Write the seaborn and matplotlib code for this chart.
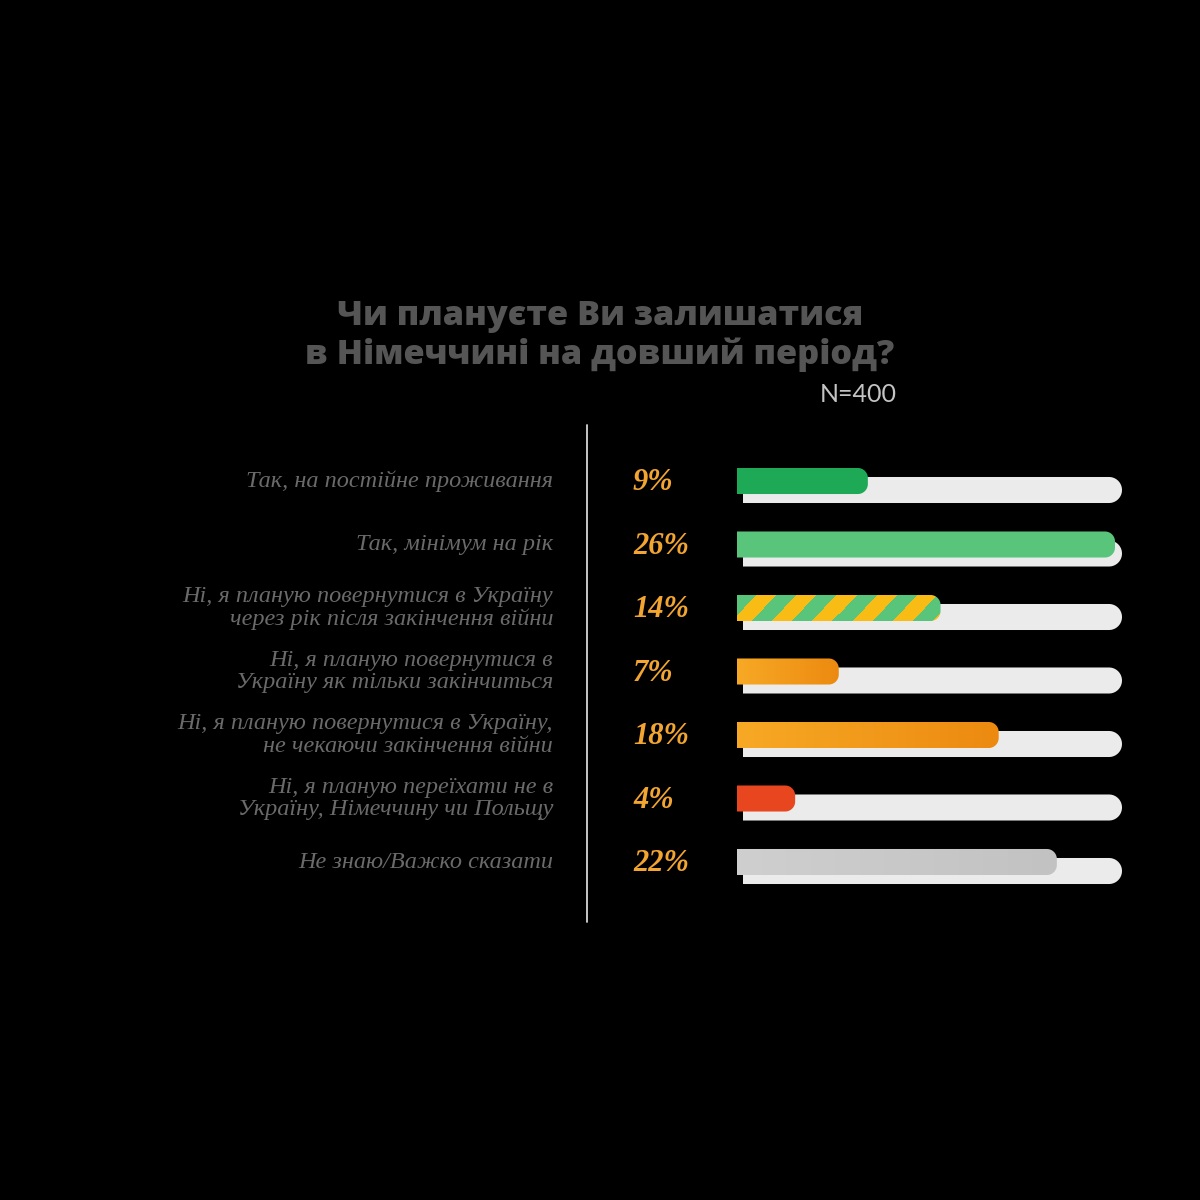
import numpy as np
import pandas as pd
import seaborn as sns
import matplotlib.pyplot as plt
from matplotlib.patches import Polygon
from matplotlib.lines import Line2D
from matplotlib.colors import to_rgb
from matplotlib import transforms

# --- data ---
answers = [
    "Так, на постійне проживання",
    "Так, мінімум на рік",
    "Ні, я планую повернутися в Україну\nчерез рік після закінчення війни",
    "Ні, я планую повернутися в\nУкраїну як тільки закінчиться",
    "Ні, я планую повернутися в Україну,\nне чекаючи закінчення війни",
    "Ні, я планую переїхати не в\nУкраїну, Німеччину чи Польщу",
    "Не знаю/Важко сказати",
]
shares = [9, 26, 14, 7, 18, 4, 22]
title_lines = ["Чи плануєте Ви залишатися", "в Німеччині на довший період?"]
sample_note = "N=400"

# --- styles ---
bar_colors = ["#1DA955", "#58C57A", "#58C57A", "#F29A1B", "#F29A1B", "#E8461E", "#C9C9C9"]
bar_fill = ["solid", "solid", "stripes", "gradient", "gradient", "solid", "gradient"]
gradient_ends = {3: ("#F7A925", "#EC8A10"), 4: ("#F7A925", "#EC8A10"), 6: ("#CFCFCF", "#C2C2C2")}
stripe_colors = ("#58C57A", "#F8BC14")
track_color = "#EBEBEB"
label_color = "#6A6A6A"
pct_color = "#F2A530"

sns.set_style("dark", {"axes.facecolor": "black", "figure.facecolor": "black"})

fig = plt.figure(figsize=(12, 12), dpi=100, facecolor="black")
ax = fig.add_axes([737 / 1200, 1 - 893.75 / 1200, 385 / 1200, 444.5 / 1200])
ax.set_facecolor("black")

df = pd.DataFrame({"answer": answers, "share": shares})
sns.barplot(data=df, y="answer", x="share", hue="answer", palette=bar_colors,
            legend=False, width=0.41, orient="h", ax=ax, saturation=1)

x_max = 26 * 385 / 378
ax.set_xlim(0, x_max)
ax.set_ylim(6.5, -0.5)
ax.axis("off")

bbox = ax.get_window_extent()
ux = x_max / bbox.width      # data units per pixel, x
uy = 7.0 / bbox.height       # data units per pixel, y


def right_rounded(x0, y0, w, h, r_px, n=16):
    rx = min(r_px * ux, w)
    ry = min(r_px * uy, h / 2)
    x1 = x0 + w
    t1 = np.linspace(-np.pi / 2, 0, n)
    t2 = np.linspace(0, np.pi / 2, n)
    arc1 = np.column_stack([x1 - rx + rx * np.cos(t1), y0 + ry + ry * np.sin(t1)])
    arc2 = np.column_stack([x1 - rx + rx * np.cos(t2), y0 + h - ry + ry * np.sin(t2)])
    verts = np.vstack([[x0, y0], arc1, arc2, [x0, y0 + h]])
    return verts


bars = list(ax.patches)
for p in bars:
    p.remove()

for p in bars:
    x0, y0, w, h = p.get_x(), p.get_y(), p.get_width(), p.get_height()
    i = int(round(y0 + h / 2))

    # light track behind each bar, shifted a little right and down
    ty = y0 + 9 * uy
    tx = 6 * ux
    track = Polygon(right_rounded(tx, ty, x_max - tx, h, 13), closed=True,
                    facecolor=track_color, edgecolor="none", zorder=1)
    ax.add_patch(track)

    verts = right_rounded(x0, y0, w, h, 10)
    if bar_fill[i] == "solid":
        ax.add_patch(Polygon(verts, closed=True, facecolor=bar_colors[i],
                             edgecolor="none", zorder=2))
        continue

    shape = Polygon(verts, closed=True, facecolor="none", edgecolor="none", zorder=2)
    ax.add_patch(shape)
    nx = max(int(w / ux), 2)
    ny = max(int(h / uy), 2)
    if bar_fill[i] == "gradient":
        c0, c1 = (np.array(to_rgb(c)) for c in gradient_ends[i])
        t = np.linspace(0, 1, nx)[None, :, None]
        img = np.repeat(c0 + (c1 - c0) * t, ny, axis=0)
    else:
        cols, rows = np.meshgrid(np.arange(nx), np.arange(ny))
        band = ((cols + rows) // 20) % 2
        ca, cb = (np.array(to_rgb(c)) for c in stripe_colors)
        img = np.where(band[..., None] == 0, ca, cb)
    im = ax.imshow(img, extent=[x0, x0 + w, y0 + h, y0], aspect="auto",
                   interpolation="nearest", zorder=2)
    im.set_clip_path(shape)

ax.set_xlim(0, x_max)
ax.set_ylim(6.5, -0.5)

# labels and percentages, placed on the category rows
lab_tr = transforms.blended_transform_factory(fig.transFigure, ax.transData)
for i, (a, s) in enumerate(zip(answers, shares)):
    ax.text(553 / 1200, i, a, transform=lab_tr, ha="right", va="center",
            fontsize=17.5, fontstyle="italic", family="Liberation Serif",
            color=label_color, linespacing=1.1, clip_on=False)
    ax.text(633 / 1200, i + 0.03, f"{s}%", transform=lab_tr, ha="left", va="center",
            fontsize=22, fontstyle="italic", fontweight="bold",
            family="Liberation Serif", color=pct_color, clip_on=False)

fig.add_artist(Line2D([587 / 1200, 587 / 1200], [1 - 425 / 1200, 1 - 922 / 1200],
                      color="#D5D5D5", lw=1.3))

fig.text(0.5, 1 - 316 / 1200, title_lines[0], ha="center", va="center",
         fontsize=24.7, fontweight=800, family="Open Sans", color="#555555")
fig.text(0.5, 1 - 355 / 1200, title_lines[1], ha="center", va="center",
         fontsize=24.7, fontweight=800, family="Open Sans", color="#555555")
fig.text(897 / 1200, 1 - 394 / 1200, sample_note, ha="right", va="center",
         fontsize=18, fontweight="normal", family="Lato", color="#C4C4C4")

fig.savefig("out.png", dpi=100, facecolor="black")
